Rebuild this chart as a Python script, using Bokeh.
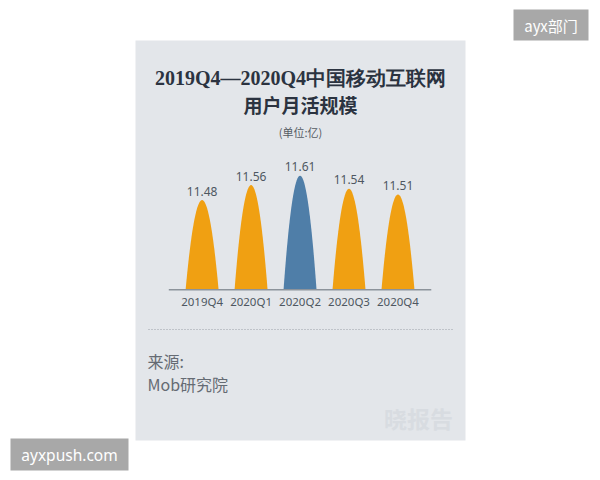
from bokeh.plotting import figure
from bokeh.models import Range1d, ColumnDataSource
from bokeh.core.properties import value
from bokeh.embed import file_html
from bokeh.resources import INLINE

# ---- data ----
quarters = ["2019Q4", "2020Q1", "2020Q2", "2020Q3", "2020Q4"]
mau = [11.48, 11.56, 11.61, 11.54, 11.51]
bar_colors = ["#F0A012", "#F0A012", "#4F7EA8", "#F0A012", "#F0A012"]
value_labels = ["11.48", "11.56", "11.61", "11.54", "11.51"]
title_line1 = "2019Q4—2020Q4中国移动互联网"
title_line2 = "用户月活规模"
unit_text = "(单位:亿)"
source_label = "来源:"
source_name = "Mob研究院"

# ---- layout (page pixels) ----
W, H = 592, 472
OFF = 0
y_base = 11.0
px_per_unit_y = 187.0
base_px = 289.3
cat0_px, cat_step = 201.6, 48.97

p = figure(width=W, height=H, output_backend="svg", toolbar_location=None,
           x_range=Range1d(OFF, OFF + W), y_range=Range1d(OFF + H, OFF),
           min_border=0, outline_line_color=None,
           background_fill_color="white", border_fill_color="white")
p.axis.visible = False
p.grid.visible = False

p.extra_x_ranges = {"cat": Range1d((OFF - cat0_px) / cat_step,
                                   (OFF + W - cat0_px) / cat_step)}
p.extra_y_ranges = {"val": Range1d(y_base - (OFF + H - base_px) / px_per_unit_y,
                                   y_base + (base_px - OFF) / px_per_unit_y)}

# panel
p.quad(left=135, right=465, top=40, bottom=440, fill_color="#E3E6EA", line_color=None)

# titles
p.text(x=[300], y=[77], text=[title_line1], text_align="center", text_baseline="middle",
       text_font=value("Liberation Serif"), text_font_style="bold",
       text_font_size="20px", text_color="#2B3340")
p.text(x=[300], y=[104], text=[title_line2], text_align="center", text_baseline="middle",
       text_font=value("Noto Sans CJK SC"), text_font_style="bold",
       text_font_size="19px", text_color="#2B3340")
p.text(x=[300], y=[131], text=[unit_text], text_align="center", text_baseline="middle",
       text_font=value("Noto Sans CJK SC"), text_font_size="11px", text_color="#555B63")

# bars (bell shapes)
n = 40
hw = 0.337
xs, ys = [], []
for i, v in enumerate(mau):
    ts = [-1 + 2 * k / n for k in range(n + 1)]
    xs.append([i + hw * t for t in ts])
    ys.append([y_base + (v - y_base) * (1 - t * t) for t in ts])
p.patches(xs=xs, ys=ys, fill_color=bar_colors, line_color=None,
          x_range_name="cat", y_range_name="val")

# baseline
p.segment(x0=[-0.68], x1=[4.68], y0=[y_base], y1=[y_base], line_color="#8C939B",
          line_width=1.5, x_range_name="cat", y_range_name="val")

idx = list(range(len(quarters)))
src = ColumnDataSource(dict(x=idx, y=mau, lab=value_labels, q=quarters,
                            b=[y_base] * len(mau)))
p.text(x="x", y="y", text="lab", source=src, x_range_name="cat", y_range_name="val",
       text_align="center", text_baseline="middle", y_offset=-9,
       text_font=value("Noto Sans"), text_font_size="12px", text_color="#4E5761")
p.text(x="x", y="b", text="q", source=src, x_range_name="cat", y_range_name="val",
       text_align="center", text_baseline="middle", y_offset=12,
       text_font=value("Noto Sans"), text_font_size="11.5px", text_color="#4E5761")

# dotted separator
p.segment(x0=[148], x1=[452], y0=[329], y1=[329], line_color="#9AA0A8",
          line_width=1, line_dash="1 2")

# source
p.text(x=[147], y=[360], text=[source_label], text_baseline="middle",
       text_font=value("Noto Sans CJK SC"), text_font_size="16px", text_color="#656B73")
p.text(x=[147], y=[383], text=[source_name], text_baseline="middle",
       text_font=value("Noto Sans CJK SC"), text_font_size="16px", text_color="#656B73")

# faint watermark
p.text(x=[418], y=[417], text=["晓报告"], text_align="center", text_baseline="middle",
       text_font=value("Noto Sans CJK SC"), text_font_style="bold",
       text_font_size="23px", text_color="#D8DCE1")

# corner tags
p.quad(left=[513, 10], right=[588, 128], top=[9, 438], bottom=[40, 470],
       fill_color="#A8A8A8", line_color=None)
p.text(x=[550.5], y=[25], text=["ayx部门"], text_align="center", text_baseline="middle",
       text_font=value("Noto Sans CJK SC"), text_font_size="15px", text_color="white")
p.text(x=[69], y=[454.5], text=["ayxpush.com"], text_align="center", text_baseline="middle",
       text_font=value("Noto Sans"), text_font_size="15.5px", text_color="white")

open("out.html", "w").write(file_html(p, INLINE))
